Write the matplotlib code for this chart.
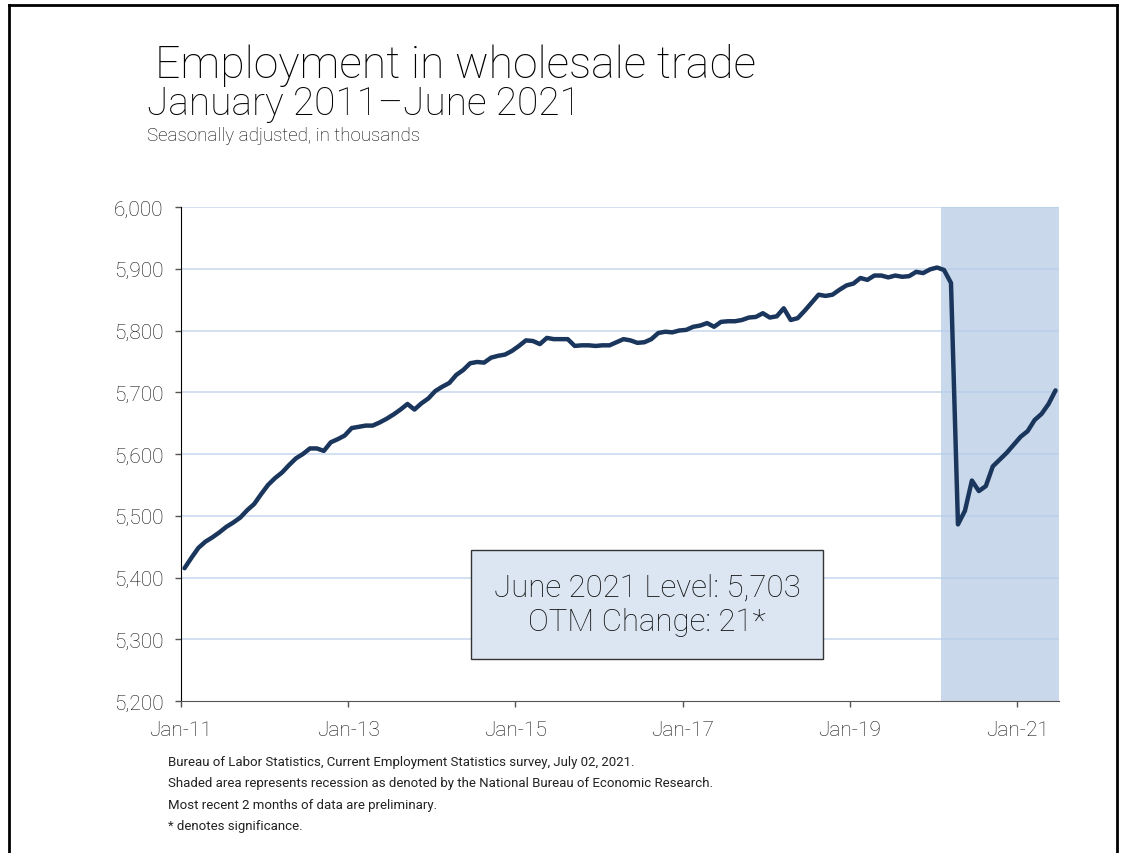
import numpy as np
import matplotlib
matplotlib.use("Agg")
import matplotlib.pyplot as plt
from matplotlib.lines import Line2D

# monthly employment, Jan 2011 - Jun 2021 (thousands)
emp_2011_2012 = [5415, 5432, 5448, 5458, 5465, 5473, 5482, 5489, 5497, 5509, 5519, 5535,
                 5550, 5561, 5570, 5582, 5593, 5600, 5609, 5609, 5605, 5619, 5624, 5630]
emp_2013_2014 = [5642, 5644, 5646, 5646, 5651, 5657, 5664, 5672, 5681, 5672, 5682, 5690,
                 5702, 5709, 5715, 5728, 5736, 5747, 5749, 5748, 5756, 5759, 5761, 5767]
emp_2015_2016 = [5775, 5784, 5783, 5778, 5788, 5786, 5786, 5786, 5775, 5776, 5776, 5775,
                 5776, 5776, 5781, 5786, 5784, 5780, 5781, 5786, 5796, 5798, 5797, 5800]
emp_2017_2018 = [5801, 5806, 5808, 5812, 5806, 5814, 5815, 5815, 5817, 5821, 5822, 5828,
                 5821, 5823, 5836, 5817, 5820, 5832, 5845, 5858, 5856, 5858, 5866, 5873]
emp_2019_2021 = [5876, 5885, 5882, 5889, 5889, 5886, 5889, 5887, 5888, 5895, 5893, 5899,
                 5902, 5898, 5877, 5486, 5508, 5557, 5540, 5548, 5580, 5591, 5602, 5615,
                 5628, 5637, 5655, 5665, 5681, 5703]
employment = emp_2011_2012 + emp_2013_2014 + emp_2015_2016 + emp_2017_2018 + emp_2019_2021

tick_labels = ["Jan-11", "Jan-13", "Jan-15", "Jan-17", "Jan-19", "Jan-21"]
tick_months = [0, 24, 48, 72, 96, 120]
recession_start = 109  # Feb 2020
y_ticks = [5200, 5300, 5400, 5500, 5600, 5700, 5800, 5900, 6000]

title = "Employment in wholesale trade"
subtitle = "January 2011\u2013June 2021"
units = "Seasonally adjusted, in thousands"
box_text = "June 2021 Level: 5,703\nOTM Change: 21*"
notes = ["Bureau of Labor Statistics, Current Employment Statistics survey, July 02, 2021.",
         "Shaded area represents recession as denoted by the National Bureau of Economic Research.",
         "Most recent 2 months of data are preliminary.",
         "* denotes significance."]

fonts = ["Roboto", "DejaVu Sans"]

fig = plt.figure(figsize=(11.21, 8.54), dpi=100)
ax = fig.add_axes([181/1121, 1-702/854, 878/1121, 494/854])

n = len(employment)
x = np.arange(n) + 0.5
ax.axvspan(recession_start, n, color="#c9d8eb", zorder=0, lw=0)
for yv in y_ticks[1:]:
    ax.axhline(yv, color="#b4cbe8", lw=1.2, alpha=0.7, zorder=1)
ax.plot(x, employment, color="#1b365d", lw=3.2, solid_capstyle="round",
        solid_joinstyle="round", zorder=3)

ax.set_xlim(0, n)
ax.set_ylim(5200, 6000)
ax.set_yticks(y_ticks)
ax.set_yticklabels([f"{v:,}" for v in y_ticks])
ax.set_xticks(tick_months)
ax.set_xticklabels(tick_labels)
for s in ["top", "right"]:
    ax.spines[s].set_visible(False)
ax.spines["left"].set_color("black")
ax.spines["bottom"].set_color("#555555")
ax.tick_params(axis="y", length=4.5, width=1, color="#555555", pad=8)
ax.tick_params(axis="x", length=4.5, width=1, color="#555555", pad=9)
for lab in ax.get_xticklabels() + ax.get_yticklabels():
    lab.set_family(fonts)
    lab.set_fontweight("light")
    lab.set_fontsize(15)
    lab.set_color("#111111")

ax.text(0.531, 0.196, box_text, transform=ax.transAxes, ha="center", va="center",
        fontsize=22.5, family=fonts, fontweight="light", color="#111111",
        linespacing=1.25, zorder=5,
        bbox=dict(boxstyle="square,pad=0.72", fc="#dce6f2", ec="#333333", lw=1))

fig.text(155/1121, 1-78/854, title, fontsize=32, family=fonts, fontweight="light",
         color="#000000", va="baseline")
fig.text(147/1121, 1-115/854, subtitle, fontsize=28, family=fonts, fontweight="light",
         color="#000000", va="baseline")
fig.text(147/1121, 1-141/854, units, fontsize=13.5, family=fonts, fontweight="light",
         color="#000000", va="baseline")
for i, note in enumerate(notes):
    fig.text(168/1121, 1-(766 + 21.5*i)/854, note, fontsize=9.5, family=fonts,
             color="#222222", va="baseline")

# frame around the figure
fig.add_artist(Line2D([9/1121, 9/1121], [0, 1-6/854], color="black", lw=2))
fig.add_artist(Line2D([9/1121, 1117/1121], [1-6/854, 1-6/854], color="black", lw=2))
fig.add_artist(Line2D([1117/1121, 1117/1121], [0, 1-6/854], color="black", lw=2))

fig.savefig("out.png", dpi=100)
